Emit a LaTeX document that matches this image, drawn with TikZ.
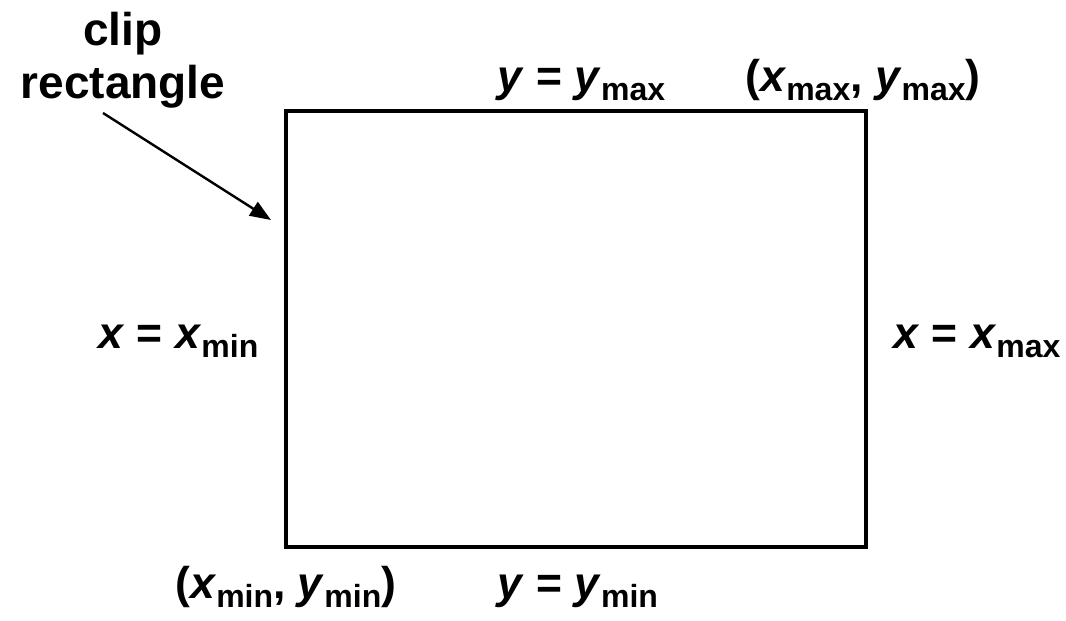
\documentclass[tikz,border=0pt]{standalone}
\usepackage{fontspec}
\setmainfont{Liberation Sans}
\usetikzlibrary{arrows.meta}
\newcommand{\mysub}[1]{\raisebox{-9.5pt}{\fontsize{32}{32}\selectfont\bfseries #1}}
\newcommand{\vx}{\textit{x}}
\newcommand{\vy}{\textit{y}}
\begin{document}
\begin{tikzpicture}[x=1pt,y=-1pt,
  lbl/.style={inner sep=0pt, font=\fontsize{44.5}{50}\selectfont\bfseries},
  big/.style={inner sep=0pt, font=\fontsize{46}{50}\selectfont\bfseries},
  box/.style={draw=black, line width=4pt},
  pointer/.style={draw=black, line width=2.4pt, -{Triangle[length=21pt,width=16pt]}}]
\useasboundingbox (0,0) rectangle (1066,621);
\draw[box] (286,111) rectangle (866,547);
\node[big, anchor=base] (clip) at (123,45) {clip};
\node[big, anchor=base] (rect) at (123,98) {rectangle};
\coordinate (tip) at (271,220);
\coordinate (tail) at (103,113);
\draw[pointer] (tail) -- (tip);
\node[lbl, anchor=base west] (ymax) at (497,91) {\vy\ = \vy\mysub{max}};
\node[lbl, anchor=base west] (cmax) at (745,91) {(\vx\mysub{max}, \vy\mysub{max})};
\node[lbl, anchor=base west] (xmin) at (98,348) {\vx\ = \vx\mysub{min}};
\node[lbl, anchor=base west] (xmax) at (893,348) {\vx\ = \vx\mysub{max}};
\node[lbl, anchor=base west] (cmin) at (175,598) {(\vx\mysub{min}, \vy\mysub{min})};
\node[lbl, anchor=base west] (ymin) at (497,598) {\vy\ = \vy\mysub{min}};
\end{tikzpicture}
\end{document}
